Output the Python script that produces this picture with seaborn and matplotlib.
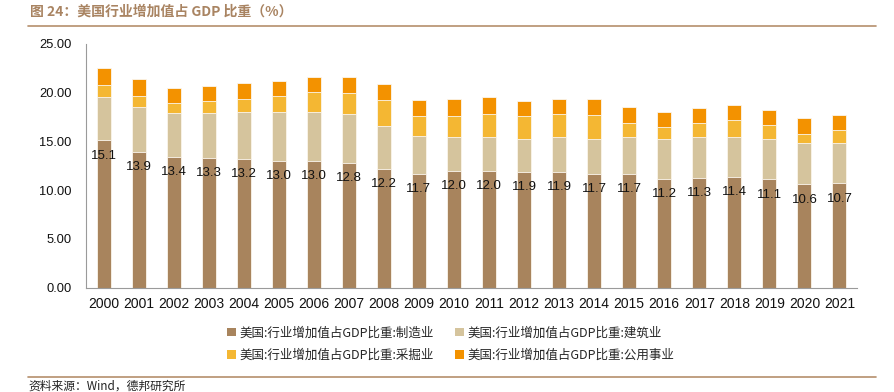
import numpy as np
import pandas as pd
import matplotlib
matplotlib.use("Agg")
import matplotlib.pyplot as plt
from matplotlib.patches import Patch
from matplotlib.lines import Line2D
import seaborn as sns

# 数据（从图中读取，单位 %）
years = [str(y) for y in range(2000, 2022)]
manufacturing = [15.1, 13.9, 13.4, 13.3, 13.2, 13.0, 13.0, 12.8, 12.2, 11.7, 12.0,
                 12.0, 11.9, 11.9, 11.7, 11.7, 11.2, 11.3, 11.4, 11.1, 10.6, 10.7]
construction = [4.5, 4.6, 4.5, 4.6, 4.8, 5.0, 5.0, 5.0, 4.4, 3.9, 3.5,
                3.5, 3.4, 3.6, 3.6, 3.8, 4.1, 4.2, 4.1, 4.2, 4.2, 4.1]
mining = [1.2, 1.2, 1.0, 1.2, 1.4, 1.7, 2.1, 2.2, 2.7, 2.0, 2.1,
          2.3, 2.3, 2.3, 2.4, 1.4, 1.2, 1.4, 1.7, 1.4, 1.0, 1.4]
utilities = [1.7, 1.7, 1.6, 1.6, 1.6, 1.5, 1.5, 1.6, 1.6, 1.7, 1.8,
             1.8, 1.6, 1.6, 1.7, 1.6, 1.5, 1.5, 1.5, 1.5, 1.6, 1.5]

labels = ["美国:行业增加值占GDP比重:制造业", "美国:行业增加值占GDP比重:建筑业",
          "美国:行业增加值占GDP比重:采掘业", "美国:行业增加值占GDP比重:公用事业"]
colors = ["#A8845D", "#D5C49D", "#F4B733", "#F39200"]

df = pd.DataFrame({"year": years, "manufacturing": manufacturing,
                   "construction": construction, "mining": mining,
                   "utilities": utilities})
cols = ["manufacturing", "construction", "mining", "utilities"]
cum = df[cols].cumsum(axis=1)

sns.set_style("white")
plt.rcParams["font.family"] = ["Liberation Sans", "Noto Sans CJK SC", "DejaVu Sans"]
cjk = ["Noto Sans CJK SC", "DejaVu Sans"]

fig = plt.figure(figsize=(8.94, 3.92), dpi=100)
ax = fig.add_axes([0.0962, 0.2661, 0.8624, 0.6217])

# 堆叠柱：从总和往下画
for col, c in zip(reversed(cols), reversed(colors)):
    sns.barplot(x=df["year"], y=cum[col], color=c, width=0.4, errorbar=None,
                edgecolor="#FBF6EE", linewidth=0.6, ax=ax, saturation=1)

for i, v in enumerate(manufacturing):
    ax.annotate(f"{v:.1f}", (i, v), xytext=(0, -11), textcoords="offset points",
                ha="center", va="center", fontsize=9.5, color="#111111")

ax.set_xlim(-0.5, len(years) - 0.5)
ax.set_ylim(0, 25)
ax.set_yticks(np.arange(0, 25.1, 5))
ax.yaxis.set_major_formatter(matplotlib.ticker.FormatStrFormatter("%.2f"))
ax.set_xticks(np.arange(-0.5, len(years), 1), minor=True)
ax.set_xlabel("")
ax.set_ylabel("")
for s in ["top", "right"]:
    ax.spines[s].set_visible(False)
for s in ["left", "bottom"]:
    ax.spines[s].set_color("#9a9a9a")
    ax.spines[s].set_linewidth(0.8)
ax.tick_params(axis="y", direction="in", length=3, color="#9a9a9a", pad=10.5,
               labelsize=9.3, labelcolor="#111111")
ax.tick_params(axis="x", which="major", length=0, pad=7, labelsize=10,
               labelcolor="#111111")
ax.tick_params(axis="x", which="minor", direction="in", length=3, color="#9a9a9a")

handles = [Patch(facecolor=c, edgecolor="none") for c in colors]
order = [0, 2, 1, 3]
fig.legend([handles[k] for k in order], [labels[k] for k in order],
           loc="center", bbox_to_anchor=(451 / 894, 0.1225), ncol=2,
           frameon=False, handlelength=0.7, handleheight=0.7, handletextpad=0.3,
           columnspacing=1.7, labelspacing=0.75, prop={"family": cjk, "size": 9})

# 标题与分隔线
fig.text(30 / 894, 1 - 12 / 392, "图 24：美国行业增加值占 GDP 比重（%）",
         family=cjk, fontsize=10, fontweight="bold", color="#A98462",
         ha="left", va="center")
fig.add_artist(Line2D([28 / 894, 876 / 894], [1 - 25.7 / 392] * 2,
                      color="#B58F6C", linewidth=1.2))
fig.add_artist(Line2D([28 / 894, 876 / 894], [1 - 376.7 / 392] * 2,
                      color="#B58F6C", linewidth=1.2))
fig.text(28 / 894, 1 - 380 / 392, "资料来源：Wind，德邦研究所", family=cjk,
         fontsize=8.5, color="#222222", ha="left", va="top")

fig.savefig("out.png", dpi=100)
